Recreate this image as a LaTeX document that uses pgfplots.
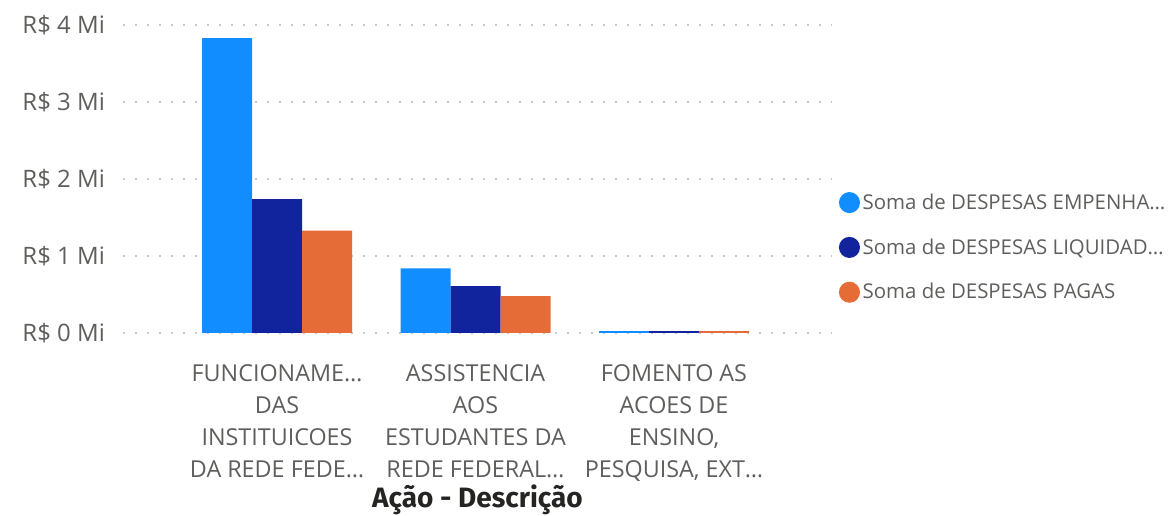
\documentclass[border=0pt]{standalone}
\usepackage{fontspec}
\setmainfont{Open Sans}
\newfontfamily\titlefont{Fira Sans}
\usepackage{pgfplots}
\pgfplotsset{compat=1.18}
\definecolor{c1}{HTML}{118DFF}
\definecolor{c2}{HTML}{12239E}
\definecolor{c3}{HTML}{E66C37}
\definecolor{txt}{HTML}{605E5C}
\definecolor{ttl}{HTML}{252423}
\definecolor{grd}{HTML}{C8C6C4}
\pgfplotsset{dotlegend/.style={legend image code/.code={\fill[##1] (0pt,0pt) circle (7.9pt);}}}
\begin{document}
\begin{tikzpicture}
\begin{axis}[
  at={(92.25pt,137.25pt)}, anchor=south west,
  scale only axis, width=531.75pt, height=231pt,
  ybar=0pt, bar width=37.5pt,
  xmin=-0.776, xmax=2.796, ymin=0, ymax=4,
  xtick={0,1,2}, ytick={0,1,2,3,4},
  axis line style={draw=none}, major tick length=0pt,
  ymajorgrids, grid style={grd, line width=1.5pt, dash pattern=on 1.5pt off 7.5pt},
  /pgf/number format/assume math mode=true,
  yticklabel={R\$ \pgfmathprintnumber{\tick} Mi},
  yticklabel style={font=\fontsize{18}{21}\selectfont, text=txt, xshift=-10pt},
  xticklabels={{FUNCIONAME…\\DAS\\INSTITUICOES\\DA REDE FEDE…},
               {ASSISTENCIA\\AOS\\ESTUDANTES DA\\REDE FEDERAL…},
               {FOMENTO AS\\ACOES DE\\ENSINO,\\PESQUISA, EXT…}},
  xticklabel style={align=center, font=\fontsize{17.5}{24}\selectfont, text=txt, anchor=north, yshift=-20pt},
  xlabel={Ação - Descrição},
  xlabel style={font=\titlefont\bfseries\fontsize{21}{24}\selectfont, text=ttl, yshift=4pt},
  legend style={at={(1.0,0.47)}, anchor=north west, draw=none, fill=none, xshift=2pt,
    font=\fontsize{15.3}{18}\selectfont, text=txt, row sep=16.5pt,
    /tikz/every even column/.append style={column sep=0pt}},
  legend cell align=left,
]
\addplot[fill=c1, draw=none, dotlegend] coordinates {(0,3.83) (1,0.84) (2,0.025)};
\addplot[fill=c2, draw=none, dotlegend] coordinates {(0,1.74) (1,0.61) (2,0.025)};
\addplot[fill=c3, draw=none, dotlegend] coordinates {(0,1.33) (1,0.48) (2,0.025)};
\legend{Soma de DESPESAS EMPENHA…,Soma de DESPESAS LIQUIDAD…,Soma de DESPESAS PAGAS}
\end{axis}
\pgfresetboundingbox
\path[use as bounding box] (0,0) rectangle (876pt,387pt);
\end{tikzpicture}
\end{document}
